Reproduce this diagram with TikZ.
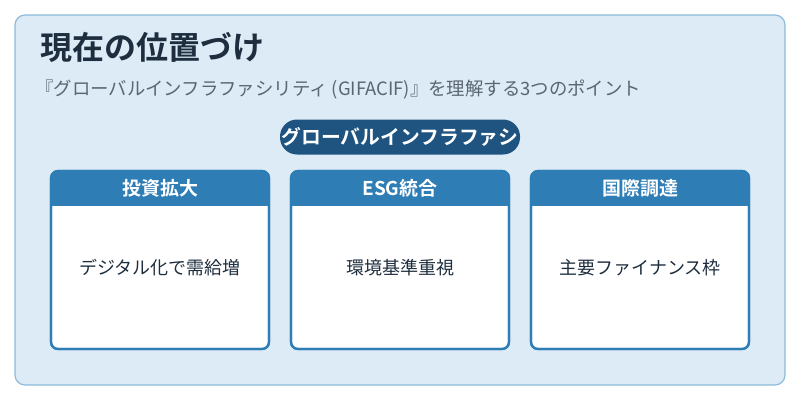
\documentclass[tikz,border=0pt]{standalone}
\usepackage{fontspec}
\setmainfont{Noto Sans CJK JP}
\newfontfamily\jpb{Noto Sans CJK JP Bold}
\definecolor{bgc}{HTML}{DCEBF6}
\definecolor{bdc}{HTML}{8DBBDB}
\definecolor{hdr}{HTML}{2E7DB5}
\definecolor{pill}{HTML}{1F5480}
\definecolor{ttl}{HTML}{1E2E3E}
\definecolor{sub}{HTML}{5A6672}
\tikzset{
 card/.style={draw=hdr,line width=2.2pt,fill=white,rounded corners=7pt,minimum width=218pt,minimum height=178pt,inner sep=0pt},
 hd/.style={font=\jpb\fontsize{19}{22}\selectfont,text=white},
 bd/.style={font=\fontsize{18}{21}\selectfont,text=ttl}
}
\begin{document}
\begin{tikzpicture}[x=1pt,y=-1pt]
\useasboundingbox (0,0) rectangle (800,400);
\node[draw=bdc,line width=1.2pt,fill=bgc,rounded corners=10pt,minimum width=770pt,minimum height=370pt,inner sep=0pt] (frame) at (400,200) {};
\node[anchor=west,font=\jpb\fontsize{32}{36}\selectfont,text=ttl,inner sep=0pt] (title) at (40,47) {現在の位置づけ};
\node[anchor=west,font=\fontsize{18.4}{21}\selectfont,text=sub,inner sep=0pt] (subtitle) at (35,89) {『グローバルインフラファシリティ (GIFACIF)』を理解する3つのポイント};
\node[fill=pill,rounded corners=17pt,minimum width=240pt,minimum height=35pt,inner sep=0pt] (pill) at (400,137) {};
\node[font=\jpb\fontsize{19.8}{22}\selectfont,text=white] (pilltext) at (400,137) {グローバルインフラファシ};
\foreach \x/\h/\b/\n in {160/投資拡大/デジタル化で需給増/a,400/ESG統合/環境基準重視/b,640/国際調達/主要ファイナンス枠/c}{
 \node[card] (card\n) at (\x,260) {};
 \begin{scope}
 \clip[rounded corners=7pt] (\x-109,171) rectangle (\x+109,349);
 \fill[hdr] (\x-110,170) rectangle (\x+110,206);
 \end{scope}
 \draw[hdr,line width=2.2pt,rounded corners=7pt] (\x-109,171) rectangle (\x+109,349);
 \node[hd] (h\n) at (\x,188) {\h};
 \node[bd] (b\n) at (\x,268) {\b};
}
\end{tikzpicture}
\end{document}
